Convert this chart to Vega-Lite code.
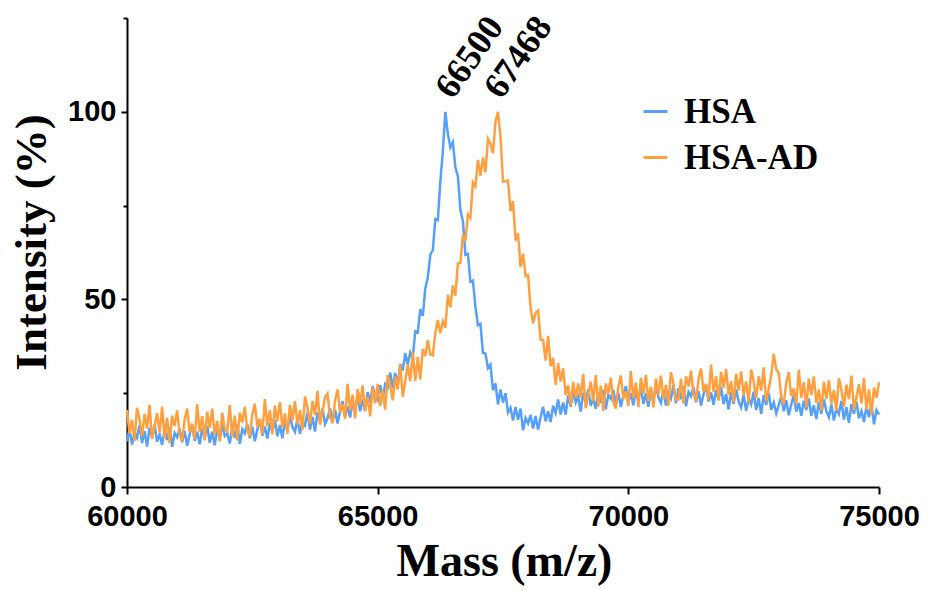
{
"$schema": "https://vega.github.io/schema/vega-lite/v6.json",
"width": 752, "height": 469,
"autosize": {"type": "none"},
"padding": {"left": 127, "top": 18, "right": 49, "bottom": 103},
"background": "white",
"config": {"view": {"stroke": null}},
"datasets": {
"spec": [
{"m":60000,"HSA":12.1,"HSA-AD":20.5},{"m":60050,"HSA":15.5,"HSA-AD":14.2},{"m":60100,"HSA":11.3,"HSA-AD":17.9},{"m":60150,"HSA":14.5,"HSA-AD":12.3},{"m":60200,"HSA":13.1,"HSA-AD":21.1},{"m":60250,"HSA":16.5,"HSA-AD":18.0},{"m":60300,"HSA":11.7,"HSA-AD":13.6},{"m":60350,"HSA":14.9,"HSA-AD":19.5},{"m":60400,"HSA":10.8,"HSA-AD":15.6},{"m":60450,"HSA":15.8,"HSA-AD":21.9},
{"m":60500,"HSA":13.3,"HSA-AD":12.8},{"m":60550,"HSA":16.5,"HSA-AD":16.1},{"m":60600,"HSA":12.1,"HSA-AD":19.7},{"m":60650,"HSA":14.0,"HSA-AD":14.5},{"m":60700,"HSA":11.2,"HSA-AD":21.4},{"m":60750,"HSA":15.4,"HSA-AD":13.0},{"m":60800,"HSA":12.5,"HSA-AD":18.4},{"m":60850,"HSA":16.0,"HSA-AD":11.7},{"m":60900,"HSA":10.7,"HSA-AD":19.0},{"m":60950,"HSA":14.4,"HSA-AD":16.3},
{"m":61000,"HSA":13.3,"HSA-AD":20.4},{"m":61050,"HSA":15.7,"HSA-AD":14.0},{"m":61100,"HSA":11.9,"HSA-AD":12.2},{"m":61150,"HSA":14.9,"HSA-AD":18.0},{"m":61200,"HSA":11.0,"HSA-AD":20.9},{"m":61250,"HSA":14.0,"HSA-AD":14.6},{"m":61300,"HSA":16.6,"HSA-AD":16.9},{"m":61350,"HSA":12.3,"HSA-AD":12.8},{"m":61400,"HSA":14.7,"HSA-AD":22.0},{"m":61450,"HSA":11.4,"HSA-AD":14.7},
{"m":61500,"HSA":15.5,"HSA-AD":18.9},{"m":61550,"HSA":13.1,"HSA-AD":12.4},{"m":61600,"HSA":16.3,"HSA-AD":20.1},{"m":61650,"HSA":11.8,"HSA-AD":15.8},{"m":61700,"HSA":14.7,"HSA-AD":20.9},{"m":61750,"HSA":11.1,"HSA-AD":13.9},{"m":61800,"HSA":15.8,"HSA-AD":17.6},{"m":61850,"HSA":12.7,"HSA-AD":12.2},{"m":61900,"HSA":16.7,"HSA-AD":19.8},{"m":61950,"HSA":13.6,"HSA-AD":15.4},
{"m":62000,"HSA":14.3,"HSA-AD":14.8},{"m":62050,"HSA":11.6,"HSA-AD":21.8},{"m":62100,"HSA":16.0,"HSA-AD":13.5},{"m":62150,"HSA":13.1,"HSA-AD":19.0},{"m":62200,"HSA":16.7,"HSA-AD":12.4},{"m":62250,"HSA":11.5,"HSA-AD":19.8},{"m":62300,"HSA":15.4,"HSA-AD":17.2},{"m":62350,"HSA":14.3,"HSA-AD":21.4},{"m":62400,"HSA":16.8,"HSA-AD":15.1},{"m":62450,"HSA":13.0,"HSA-AD":13.4},
{"m":62500,"HSA":16.1,"HSA-AD":19.3},{"m":62550,"HSA":12.2,"HSA-AD":22.2},{"m":62600,"HSA":15.3,"HSA-AD":16.0},{"m":62650,"HSA":17.9,"HSA-AD":18.2},{"m":62700,"HSA":13.7,"HSA-AD":14.1},{"m":62750,"HSA":16.1,"HSA-AD":23.4},{"m":62800,"HSA":12.9,"HSA-AD":16.2},{"m":62850,"HSA":17.0,"HSA-AD":20.4},{"m":62900,"HSA":14.7,"HSA-AD":14.0},{"m":62950,"HSA":17.9,"HSA-AD":21.7},
{"m":63000,"HSA":13.5,"HSA-AD":17.5},{"m":63050,"HSA":16.5,"HSA-AD":22.6},{"m":63100,"HSA":13.0,"HSA-AD":15.8},{"m":63150,"HSA":17.9,"HSA-AD":19.6},{"m":63200,"HSA":14.9,"HSA-AD":14.2},{"m":63250,"HSA":19.0,"HSA-AD":21.9},{"m":63300,"HSA":16.0,"HSA-AD":17.7},{"m":63350,"HSA":14.7,"HSA-AD":22.9},{"m":63400,"HSA":18.2,"HSA-AD":16.7},{"m":63450,"HSA":14.2,"HSA-AD":20.5},
{"m":63500,"HSA":17.6,"HSA-AD":15.2},{"m":63550,"HSA":16.4,"HSA-AD":24.1},{"m":63600,"HSA":19.9,"HSA-AD":21.1},{"m":63650,"HSA":15.3,"HSA-AD":16.8},{"m":63700,"HSA":18.7,"HSA-AD":22.9},{"m":63750,"HSA":14.8,"HSA-AD":19.2},{"m":63800,"HSA":19.9,"HSA-AD":25.6},{"m":63850,"HSA":17.6,"HSA-AD":16.6},{"m":63900,"HSA":21.0,"HSA-AD":20.2},{"m":63950,"HSA":16.8,"HSA-AD":23.9},
{"m":64000,"HSA":18.3,"HSA-AD":24.9},{"m":64050,"HSA":21.0,"HSA-AD":18.7},{"m":64100,"HSA":17.3,"HSA-AD":17.0},{"m":64150,"HSA":20.6,"HSA-AD":23.0},{"m":64200,"HSA":16.9,"HSA-AD":26.0},{"m":64250,"HSA":20.2,"HSA-AD":19.9},{"m":64300,"HSA":22.9,"HSA-AD":22.1},{"m":64350,"HSA":18.9,"HSA-AD":18.2},{"m":64400,"HSA":21.5,"HSA-AD":27.5},{"m":64450,"HSA":18.5,"HSA-AD":20.4},
{"m":64500,"HSA":22.7,"HSA-AD":24.6},{"m":64550,"HSA":20.7,"HSA-AD":18.3},{"m":64600,"HSA":24.3,"HSA-AD":26.1},{"m":64650,"HSA":20.2,"HSA-AD":22.0},{"m":64700,"HSA":23.4,"HSA-AD":27.1},{"m":64750,"HSA":20.2,"HSA-AD":20.3},{"m":64800,"HSA":25.3,"HSA-AD":24.1},{"m":64850,"HSA":22.6,"HSA-AD":18.8},{"m":64900,"HSA":26.9,"HSA-AD":26.5},{"m":64950,"HSA":24.2,"HSA-AD":22.3},
{"m":65000,"HSA":23.1,"HSA-AD":27.5},{"m":65050,"HSA":27.1,"HSA-AD":21.6},{"m":65100,"HSA":23.5,"HSA-AD":25.7},{"m":65150,"HSA":27.4,"HSA-AD":20.6},{"m":65200,"HSA":26.5,"HSA-AD":29.8},{"m":65250,"HSA":30.5,"HSA-AD":27.1},{"m":65300,"HSA":26.3,"HSA-AD":23.1},{"m":65350,"HSA":30.4,"HSA-AD":29.4},{"m":65400,"HSA":27.0,"HSA-AD":26.0},{"m":65450,"HSA":32.8,"HSA-AD":32.7},
{"m":65500,"HSA":31.0,"HSA-AD":24.0},{"m":65550,"HSA":35.7,"HSA-AD":28.2},{"m":65600,"HSA":32.6,"HSA-AD":32.6},{"m":65650,"HSA":35.9,"HSA-AD":28.2},{"m":65700,"HSA":34.5,"HSA-AD":35.9},{"m":65750,"HSA":41.5,"HSA-AD":28.3},{"m":65800,"HSA":41.2,"HSA-AD":34.6},{"m":65850,"HSA":47.4,"HSA-AD":28.7},{"m":65900,"HSA":45.6,"HSA-AD":36.8},{"m":65950,"HSA":52.9,"HSA-AD":34.9},
{"m":66000,"HSA":55.8,"HSA-AD":39.1},{"m":66050,"HSA":61.9,"HSA-AD":35.3},{"m":66100,"HSA":63.1,"HSA-AD":35.1},{"m":66150,"HSA":71.4,"HSA-AD":41.0},{"m":66200,"HSA":71.1,"HSA-AD":44.5},{"m":66250,"HSA":81.4,"HSA-AD":41.0},{"m":66300,"HSA":89.5,"HSA-AD":44.2},{"m":66350,"HSA":100.0,"HSA-AD":42.4},{"m":66400,"HSA":94.1,"HSA-AD":51.2},{"m":66450,"HSA":90.5,"HSA-AD":47.9},
{"m":66500,"HSA":91.9,"HSA-AD":53.7},{"m":66550,"HSA":85.2,"HSA-AD":51.0},{"m":66600,"HSA":82.8,"HSA-AD":59.6},{"m":66650,"HSA":73.8,"HSA-AD":59.7},{"m":66700,"HSA":70.9,"HSA-AD":67.2},{"m":66750,"HSA":61.9,"HSA-AD":65.6},{"m":66800,"HSA":62.1,"HSA-AD":72.6},{"m":66850,"HSA":54.7,"HSA-AD":71.7},{"m":66900,"HSA":55.0,"HSA-AD":81.2},{"m":66950,"HSA":48.1,"HSA-AD":80.2},
{"m":67000,"HSA":43.1,"HSA-AD":87.2},{"m":67050,"HSA":43.5,"HSA-AD":83.0},{"m":67100,"HSA":35.8,"HSA-AD":87.8},{"m":67150,"HSA":35.6,"HSA-AD":83.9},{"m":67200,"HSA":31.7,"HSA-AD":92.8},{"m":67250,"HSA":32.6,"HSA-AD":91.5},{"m":67300,"HSA":25.8,"HSA-AD":89.0},{"m":67350,"HSA":27.6,"HSA-AD":97.3},{"m":67400,"HSA":22.0,"HSA-AD":100.0},{"m":67450,"HSA":26.0,"HSA-AD":93.5},
{"m":67500,"HSA":22.5,"HSA-AD":81.4},{"m":67550,"HSA":25.0,"HSA-AD":81.5},{"m":67600,"HSA":19.9,"HSA-AD":81.7},{"m":67650,"HSA":21.1,"HSA-AD":73.5},{"m":67700,"HSA":17.7,"HSA-AD":76.2},{"m":67750,"HSA":21.3,"HSA-AD":65.7},{"m":67800,"HSA":17.9,"HSA-AD":67.6},{"m":67850,"HSA":20.9,"HSA-AD":58.6},{"m":67900,"HSA":15.1,"HSA-AD":62.2},{"m":67950,"HSA":18.4,"HSA-AD":56.2},
{"m":68000,"HSA":17.0,"HSA-AD":56.5},{"m":68050,"HSA":19.2,"HSA-AD":47.7},{"m":68100,"HSA":15.6,"HSA-AD":43.6},{"m":68150,"HSA":18.9,"HSA-AD":46.4},{"m":68200,"HSA":15.3,"HSA-AD":47.0},{"m":68250,"HSA":18.6,"HSA-AD":39.3},{"m":68300,"HSA":21.4,"HSA-AD":39.2},{"m":68350,"HSA":17.5,"HSA-AD":33.7},{"m":68400,"HSA":20.2,"HSA-AD":40.3},{"m":68450,"HSA":17.3,"HSA-AD":32.2},
{"m":68500,"HSA":21.7,"HSA-AD":34.4},{"m":68550,"HSA":19.7,"HSA-AD":27.2},{"m":68600,"HSA":23.3,"HSA-AD":33.0},{"m":68650,"HSA":19.3,"HSA-AD":28.1},{"m":68700,"HSA":22.5,"HSA-AD":31.6},{"m":68750,"HSA":19.3,"HSA-AD":24.5},{"m":68800,"HSA":24.4,"HSA-AD":27.1},{"m":68850,"HSA":21.4,"HSA-AD":21.7},{"m":68900,"HSA":25.5,"HSA-AD":28.0},{"m":68950,"HSA":22.5,"HSA-AD":23.8},
{"m":69000,"HSA":24.1,"HSA-AD":27.6},{"m":69050,"HSA":20.1,"HSA-AD":23.8},{"m":69100,"HSA":25.1,"HSA-AD":30.1},{"m":69150,"HSA":22.7,"HSA-AD":21.0},{"m":69200,"HSA":26.0,"HSA-AD":24.5},{"m":69250,"HSA":21.7,"HSA-AD":28.1},{"m":69300,"HSA":23.6,"HSA-AD":22.9},{"m":69350,"HSA":20.9,"HSA-AD":29.8},{"m":69400,"HSA":25.2,"HSA-AD":21.4},{"m":69450,"HSA":22.4,"HSA-AD":27.0},
{"m":69500,"HSA":25.9,"HSA-AD":20.3},{"m":69550,"HSA":20.7,"HSA-AD":27.6},{"m":69600,"HSA":24.5,"HSA-AD":24.9},{"m":69650,"HSA":23.5,"HSA-AD":29.1},{"m":69700,"HSA":25.9,"HSA-AD":22.7},{"m":69750,"HSA":22.1,"HSA-AD":20.9},{"m":69800,"HSA":25.1,"HSA-AD":26.7},{"m":69850,"HSA":21.3,"HSA-AD":29.7},{"m":69900,"HSA":24.3,"HSA-AD":23.4},{"m":69950,"HSA":26.9,"HSA-AD":25.5},
{"m":70000,"HSA":22.6,"HSA-AD":21.6},{"m":70050,"HSA":25.0,"HSA-AD":30.9},{"m":70100,"HSA":21.8,"HSA-AD":23.6},{"m":70150,"HSA":25.8,"HSA-AD":27.8},{"m":70200,"HSA":23.4,"HSA-AD":21.3},{"m":70250,"HSA":26.6,"HSA-AD":29.1},{"m":70300,"HSA":22.2,"HSA-AD":24.8},{"m":70350,"HSA":25.0,"HSA-AD":29.9},{"m":70400,"HSA":21.4,"HSA-AD":22.9},{"m":70450,"HSA":26.1,"HSA-AD":26.7},
{"m":70500,"HSA":23.1,"HSA-AD":21.2},{"m":70550,"HSA":27.0,"HSA-AD":28.9},{"m":70600,"HSA":23.9,"HSA-AD":24.5},{"m":70650,"HSA":22.4,"HSA-AD":29.7},{"m":70700,"HSA":25.9,"HSA-AD":23.4},{"m":70750,"HSA":21.7,"HSA-AD":27.2},{"m":70800,"HSA":25.0,"HSA-AD":21.7},{"m":70850,"HSA":23.6,"HSA-AD":30.6},{"m":70900,"HSA":27.1,"HSA-AD":27.5},{"m":70950,"HSA":22.3,"HSA-AD":23.2},
{"m":71000,"HSA":26.3,"HSA-AD":23.3},{"m":71050,"HSA":23.4,"HSA-AD":28.8},{"m":71100,"HSA":26.9,"HSA-AD":22.2},{"m":71150,"HSA":21.5,"HSA-AD":29.5},{"m":71200,"HSA":25.3,"HSA-AD":26.8},{"m":71250,"HSA":24.2,"HSA-AD":31.0},{"m":71300,"HSA":26.6,"HSA-AD":24.7},{"m":71350,"HSA":22.6,"HSA-AD":22.9},{"m":71400,"HSA":25.6,"HSA-AD":28.7},{"m":71450,"HSA":21.7,"HSA-AD":31.6},
{"m":71500,"HSA":24.7,"HSA-AD":25.4},{"m":71550,"HSA":27.1,"HSA-AD":27.5},{"m":71600,"HSA":22.8,"HSA-AD":23.4},{"m":71650,"HSA":25.2,"HSA-AD":32.6},{"m":71700,"HSA":21.9,"HSA-AD":25.4},{"m":71750,"HSA":25.8,"HSA-AD":29.5},{"m":71800,"HSA":23.4,"HSA-AD":23.0},{"m":71850,"HSA":26.6,"HSA-AD":30.7},{"m":71900,"HSA":22.1,"HSA-AD":26.5},{"m":71950,"HSA":24.8,"HSA-AD":31.5},
{"m":72000,"HSA":20.7,"HSA-AD":24.5},{"m":72050,"HSA":25.3,"HSA-AD":28.2},{"m":72100,"HSA":22.2,"HSA-AD":22.6},{"m":72150,"HSA":26.0,"HSA-AD":30.2},{"m":72200,"HSA":22.8,"HSA-AD":25.7},{"m":72250,"HSA":21.2,"HSA-AD":30.8},{"m":72300,"HSA":24.6,"HSA-AD":24.4},{"m":72350,"HSA":20.3,"HSA-AD":28.1},{"m":72400,"HSA":23.5,"HSA-AD":22.5},{"m":72450,"HSA":22.0,"HSA-AD":31.3},
{"m":72500,"HSA":25.4,"HSA-AD":28.1},{"m":72550,"HSA":20.5,"HSA-AD":23.7},{"m":72600,"HSA":23.7,"HSA-AD":29.5},{"m":72650,"HSA":19.5,"HSA-AD":25.7},{"m":72700,"HSA":24.5,"HSA-AD":31.9},{"m":72750,"HSA":21.9,"HSA-AD":22.8},{"m":72800,"HSA":25.1,"HSA-AD":26.1},{"m":72850,"HSA":20.6,"HSA-AD":29.7},{"m":72900,"HSA":22.5,"HSA-AD":35.5},{"m":72950,"HSA":19.6,"HSA-AD":31.3},
{"m":73000,"HSA":21.8,"HSA-AD":30.4},{"m":73050,"HSA":24.1,"HSA-AD":23.9},{"m":73100,"HSA":20.2,"HSA-AD":22.1},{"m":73150,"HSA":23.1,"HSA-AD":27.8},{"m":73200,"HSA":19.1,"HSA-AD":30.6},{"m":73250,"HSA":22.0,"HSA-AD":24.2},{"m":73300,"HSA":24.5,"HSA-AD":26.3},{"m":73350,"HSA":20.1,"HSA-AD":22.1},{"m":73400,"HSA":22.4,"HSA-AD":31.2},{"m":73450,"HSA":19.0,"HSA-AD":23.8},
{"m":73500,"HSA":23.0,"HSA-AD":27.9},{"m":73550,"HSA":20.5,"HSA-AD":21.3},{"m":73600,"HSA":23.6,"HSA-AD":28.9},{"m":73650,"HSA":19.0,"HSA-AD":24.5},{"m":73700,"HSA":21.8,"HSA-AD":29.5},{"m":73750,"HSA":18.1,"HSA-AD":22.4},{"m":73800,"HSA":22.7,"HSA-AD":26.0},{"m":73850,"HSA":19.5,"HSA-AD":20.4},{"m":73900,"HSA":23.4,"HSA-AD":28.0},{"m":73950,"HSA":20.2,"HSA-AD":23.5},
{"m":74000,"HSA":18.6,"HSA-AD":28.5},{"m":74050,"HSA":22.0,"HSA-AD":22.2},{"m":74100,"HSA":17.7,"HSA-AD":25.8},{"m":74150,"HSA":21.0,"HSA-AD":20.3},{"m":74200,"HSA":19.5,"HSA-AD":29.0},{"m":74250,"HSA":22.9,"HSA-AD":25.9},{"m":74300,"HSA":18.0,"HSA-AD":21.4},{"m":74350,"HSA":21.3,"HSA-AD":27.3},{"m":74400,"HSA":17.1,"HSA-AD":23.4},{"m":74450,"HSA":22.1,"HSA-AD":29.7},
{"m":74500,"HSA":19.5,"HSA-AD":20.5},{"m":74550,"HSA":22.8,"HSA-AD":23.9},{"m":74600,"HSA":18.3,"HSA-AD":27.4},{"m":74650,"HSA":20.2,"HSA-AD":22.2},{"m":74700,"HSA":17.3,"HSA-AD":29.0},{"m":74750,"HSA":21.6,"HSA-AD":20.6},{"m":74800,"HSA":18.6,"HSA-AD":26.0},{"m":74850,"HSA":22.1,"HSA-AD":19.3},{"m":74900,"HSA":16.7,"HSA-AD":26.5},{"m":74950,"HSA":20.5,"HSA-AD":23.8},
{"m":75000,"HSA":19.3,"HSA-AD":27.9}
],
"labels": [{"m":66500,"v":103,"t":"66500"},{"m":67468,"v":103,"t":"67468"}]
},
"layer": [
{
"data": {"name": "spec"},
"transform": [{"fold": ["HSA", "HSA-AD"], "as": ["series", "v"]}],
"mark": {"type": "line", "strokeWidth": 2.5, "interpolate": "linear"},
"encoding": {
"x": {"field": "m", "type": "quantitative",
"scale": {"domain": [60000, 75000], "nice": false, "zero": false},
"axis": {"values": [60000, 65000, 70000, 75000], "format": "d", "grid": false,
"labelFont": "Liberation Sans", "labelFontWeight": "bold", "labelFontSize": 29, "labelColor": "black", "labelPadding": 8, "labelOverlap": false, "labelFlush": false,
"tickColor": "black", "tickWidth": 2, "tickSize": 7, "domainColor": "black", "domainWidth": 2,
"title": "Mass (m/z)", "titleFont": "Liberation Serif", "titleFontSize": 46, "titleFontWeight": "bold", "titleColor": "black",
"titleX": 377, "titleY": 88, "titleBaseline": "alphabetic", "titleAlign": "center"}},
"y": {"field": "v", "type": "quantitative",
"scale": {"domain": [0, 125], "nice": false},
"axis": {"values": [0, 25, 50, 75, 100, 125], "grid": false,
"labelExpr": "(datum.value == 0 || datum.value == 50 || datum.value == 100) ? datum.label : ''",
"labelFont": "Liberation Sans", "labelFontWeight": "bold", "labelFontSize": 29, "labelColor": "black", "labelPadding": 5, "labelOverlap": false, "labelFlush": false,
"tickColor": "black", "tickWidth": 2,
"tickSize": {"condition": {"test": "datum.value % 50 === 0", "value": 6}, "value": 4},
"domainColor": "black", "domainWidth": 2,
"title": "Intensity (%)", "titleFont": "Liberation Serif", "titleFontSize": 45, "titleFontWeight": "bold", "titleColor": "black",
"titleAngle": -90, "titleX": -82, "titleY": 224, "titleBaseline": "alphabetic", "titleAlign": "center"}},
"color": {"field": "series", "type": "nominal",
"scale": {"domain": ["HSA", "HSA-AD"], "range": ["#56a0f8", "#ffa040"]},
"legend": {"title": null, "orient": "none", "legendX": 511, "legendY": 76, "padding": 0, "offset": 0,
"symbolType": "stroke", "symbolSize": 576, "symbolStrokeWidth": 3,
"labelFont": "Liberation Serif", "labelFontWeight": "bold", "labelFontSize": 35, "labelColor": "black", "labelOffset": 11, "rowPadding": 10}}
}
},
{
"data": {"name": "labels"},
"mark": {"type": "text", "angle": -55, "align": "left", "baseline": "alphabetic", "font": "Liberation Serif", "fontWeight": "bold", "fontSize": 36, "color": "black"},
"encoding": {
"x": {"field": "m", "type": "quantitative"},
"y": {"field": "v", "type": "quantitative"},
"text": {"field": "t"}
}
}
]
}
